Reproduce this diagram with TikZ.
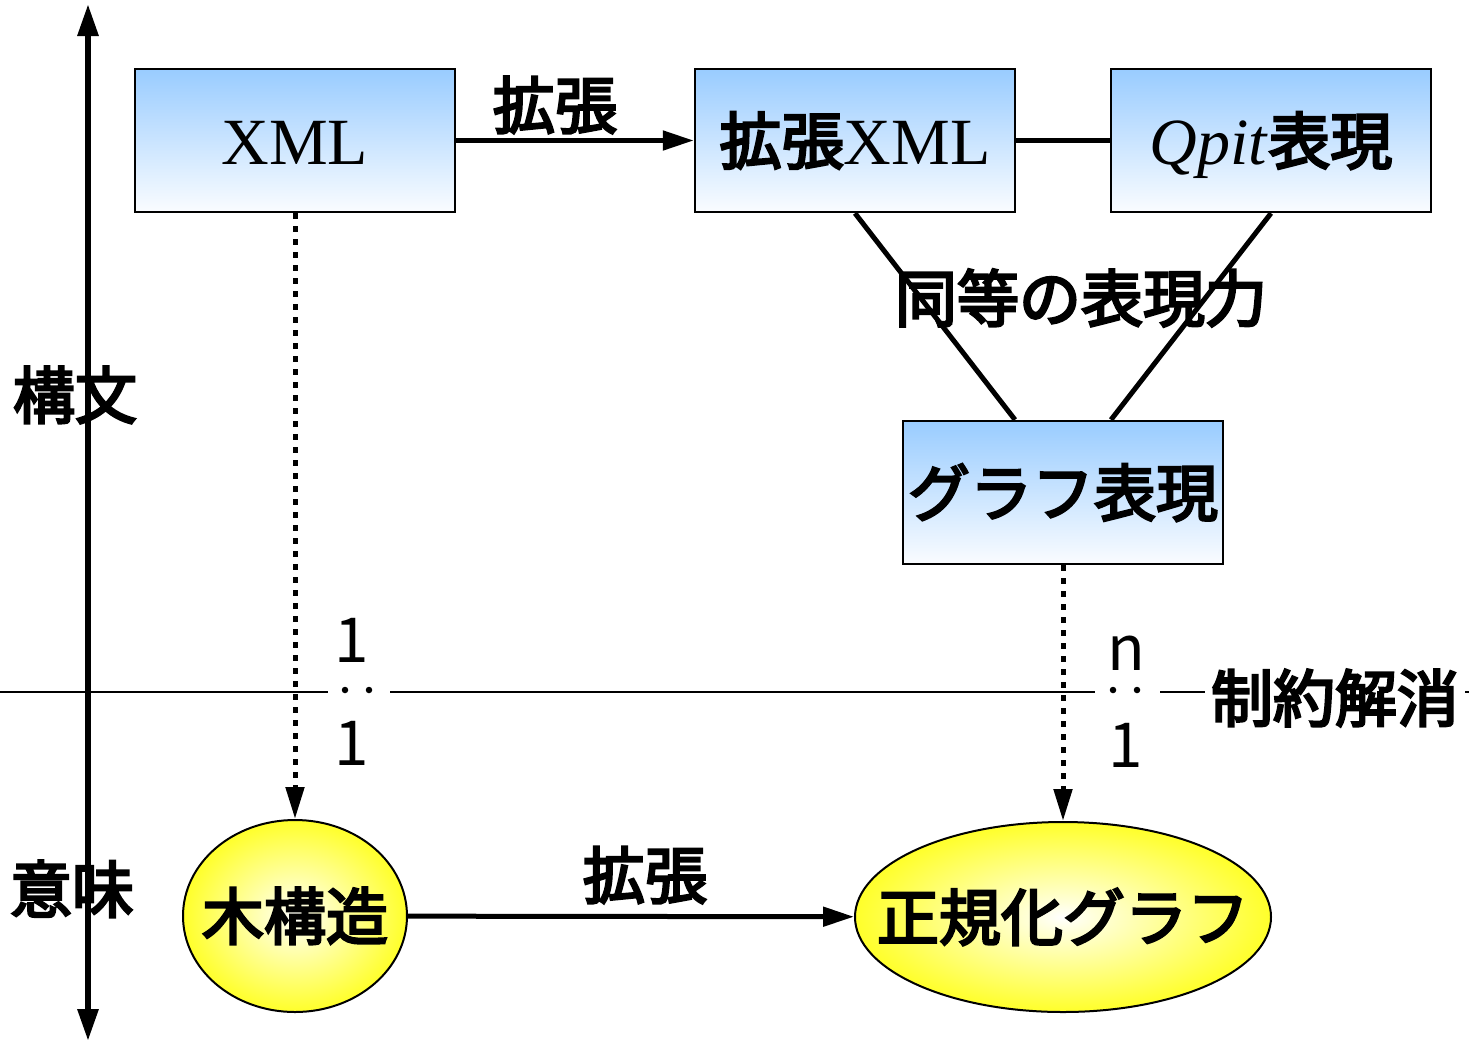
\documentclass[tikz,border=0pt]{standalone}
\usepackage{fontspec}
\setmainfont{Liberation Serif}
\newfontfamily\jp{Noto Sans CJK JP}[FakeBold=4]
\newfontfamily\num{Noto Sans CJK JP}
\usetikzlibrary{arrows.meta,shapes.geometric}
\pgfdeclareradialshading{ellshade}{\pgfpoint{0bp}{0bp}}{color(0bp)=(white); color(4bp)=(white!85!yellow); color(30bp)=(yellow); color(50bp)=(yellow)}
\definecolor{boxtop}{RGB}{153,204,255}
\definecolor{boxbot}{RGB}{250,252,255}
\begin{document}
\begin{tikzpicture}[x=1pt,y=-1pt,
  big/.style={font=\fontsize{62}{70}\selectfont},
  box/.style={draw,line width=2.5pt,rectangle,minimum width=320pt,minimum height=143pt,inner sep=0pt,top color=boxtop,bottom color=boxbot,big,text height=55pt,text depth=8pt},
  ell/.style={draw,line width=2pt,ellipse,inner sep=0pt,shading=ellshade},
  lbl/.style={big,text height=55pt,text depth=8pt,inner sep=0pt},
  conn/.style={line width=5pt},
  arr/.style={conn,-{Triangle[length=31pt,width=19pt]}},
  dotline/.style={line width=5pt,dash pattern=on 6pt off 7pt,-{Triangle[length=32pt,width=18pt]}},
  axis/.style={line width=6pt,-{Triangle[length=32pt,width=20pt]}},
  dot/.style={circle,fill=black,inner sep=0pt,minimum size=6.5pt},
  gap/.style={fill=white,inner sep=0pt,minimum height=10pt},
]
\useasboundingbox (0,0) rectangle (1469,1042);
% horizontal separator
\coordinate (hl) at (0,692);
\coordinate (hr) at (1469,692);
\draw[line width=2pt] (hl) -- (hr);
% axis
\coordinate (at) at (88,4);
\coordinate (am) at (88,692);
\coordinate (ab) at (88,1041);
\draw[axis] (am) -- (at);
\draw[axis] (am) -- (ab);
% boxes
\node[box] (xml) at (295,140.5) {{\fontsize{66}{70}\selectfont XML}};
\node[box] (exml) at (855,140.5) {{\jp 拡張}{\fontsize{66}{70}\selectfont XML}};
\node[box] (qpit) at (1271,140.5) {{\fontsize{66}{70}\selectfont\textit{Qpit}}{\jp 表現}};
\node[box] (graph) at (1063,492.5) {\jp グラフ表現};
% ellipses
\node[ell,minimum width=224pt,minimum height=192pt,label={[lbl]center:\jp 木構造}] (tree) at (295,916) {};
\node[ell,minimum width=416pt,minimum height=190pt,label={[lbl]center:\jp 正規化グラフ}] (ngraph) at (1063,917) {};
% labels
\node[lbl] (ext1) at (555,105) {\jp 拡張};
\node[lbl] (ext2) at (645,875) {\jp 拡張};
\node[lbl] (same) at (1081,298) {\jp 同等の表現力};
\node[lbl] (syn) at (75,395) {\jp 構文};
\node[lbl] (sem) at (72,889) {\jp 意味};
% connectors
\draw[arr] (xml) -- (exml);
\draw[conn] (exml) -- (qpit);
\draw[conn] (exml.south) -- ([xshift=-48pt]graph.north);
\draw[conn] (qpit.south) -- ([xshift=48pt]graph.north);
\draw[dotline] (xml.south) -- (tree.north);
\draw[dotline] (graph.south) -- (ngraph.north);
\draw[arr] (tree) -- (ngraph);
% ratio 1:1
\node[gap,minimum width=62pt] (g1) at (359,692) {};
\node[dot] (d1a) at (345,690) {};
\node[dot] (d1b) at (369,690) {};
\node[lbl,anchor=base] (r1t) at (352,662) {\num 1};
\node[lbl,anchor=base] (r1b) at (352,765) {\num 1};
% ratio n:1
\node[gap,minimum width=65pt] (g2) at (1127.5,692) {};
\node[dot] (d2a) at (1113,690) {};
\node[dot] (d2b) at (1137,690) {};
\node[lbl,anchor=base] (r2t) at (1126,670) {\num n};
\node[lbl,anchor=base] (r2b) at (1126,767) {\num 1};
% constraint solving
\node[lbl,fill=white,inner xsep=6pt] (cons) at (1335,698) {\jp 制約解消};
\end{tikzpicture}
\end{document}
